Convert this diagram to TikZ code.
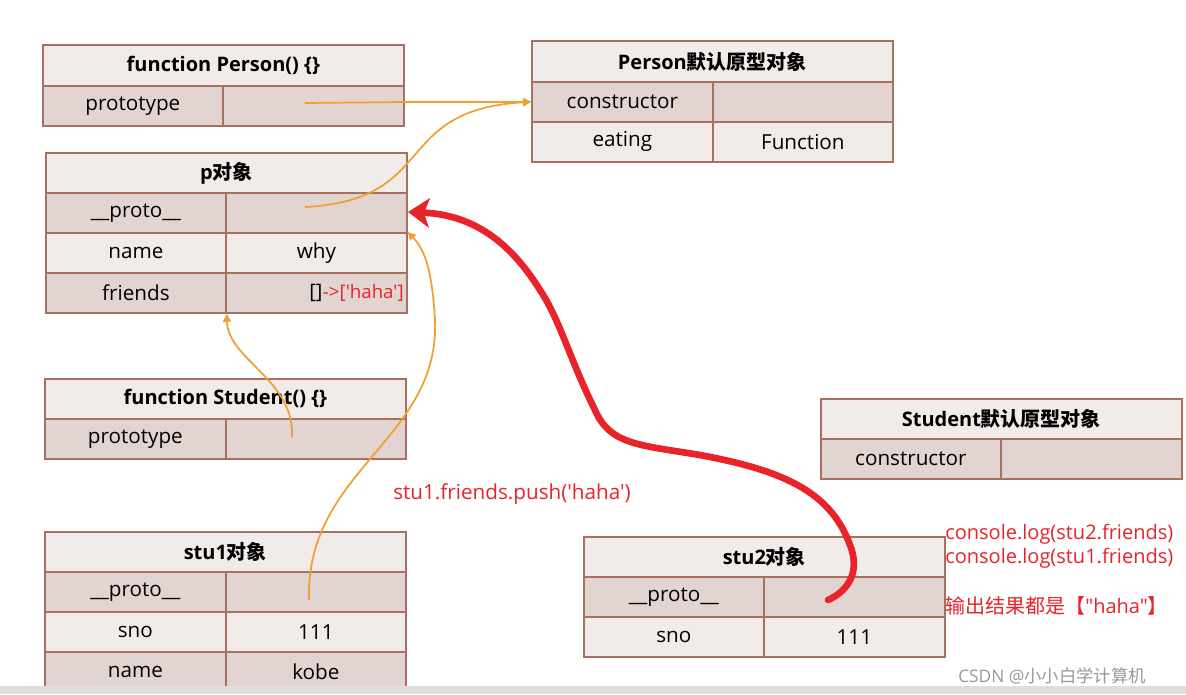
\documentclass[tikz,border=0pt]{standalone}
\usepackage{fontspec}
\setmainfont{Open Sans}[Ligatures=TeXOff]
\newfontfamily\cjk{Noto Sans CJK SC}
\usetikzlibrary{arrows.meta}
\definecolor{bd}{HTML}{A87060}
\definecolor{hd}{HTML}{F1EBE9}
\definecolor{rw}{HTML}{E2D4D0}
\definecolor{og}{HTML}{F0A030}
\definecolor{rd}{HTML}{E8232A}
\newcommand{\sq}{\char"27}
\newcommand{\dq}{\char"22}
\tikzset{
 cell/.style={draw=bd,line width=1.3pt,inner sep=0pt,anchor=north west,font=\fontsize{15.5}{18}\selectfont},
 hcell/.style={cell,fill=hd,font=\fontsize{15}{18}\selectfont\bfseries},
 dcell/.style={cell,fill=rw},
 lcell/.style={cell,fill=hd},
 oarr/.style={draw=og,line width=1.3pt,-{Triangle[length=6pt,width=6pt]}},
 rtxt/.style={text=rd,font=\fontsize{15.5}{18}\selectfont,anchor=west,inner sep=0pt},
}
\newcommand{\hdr}[6]{\node[hcell,minimum width=#4*0.75pt,minimum height=#5*0.75pt] (#1) at (#2,#3) {#6};}
\newcommand{\rowc}[8]{%
 \node[#8,minimum width=#4*0.75pt,minimum height=40*0.75pt] (#1a) at (#2,#3) {#6};
 \node[#8,minimum width=#5*0.75pt,minimum height=40*0.75pt] (#1b) at (#2+#4,#3) {#7};}
\begin{document}
\begin{tikzpicture}[x=0.75pt,y=-0.75pt]
\useasboundingbox (0,0) rectangle (1186,694);
\fill[white] (0,0) rectangle (1186,694);
% Person function
\hdr{pf}{42}{44}{361}{41}{function Person() \{\}}
\rowc{pfr}{42}{85}{180}{181}{prototype}{}{dcell}
% Person proto
\hdr{pp}{531}{40}{361}{41}{Person{\cjk\bfseries 默认原型对象}}
\rowc{ppc}{531}{81}{181}{180}{constructor}{}{dcell}
\rowc{ppe}{531}{121}{181}{180}{eating}{Function}{lcell}
% p object
\hdr{po}{45}{152}{361}{40}{p{\cjk\bfseries 对象}}
\rowc{pop}{45}{192}{180}{181}{\_\_proto\_\_}{}{dcell}
\rowc{pon}{45}{232}{180}{181}{name}{why}{lcell}
\rowc{pof}{45}{272}{180}{181}{friends}{}{dcell}
\node[anchor=west,inner sep=0pt,font=\fontsize{15}{18}\selectfont] (br) at (309,293) {[]};
\node[rtxt,font=\fontsize{14}{18}\selectfont] (brr) at (br.east) {->[\sq haha\sq]};
% Student function
\hdr{sf}{44}{378}{361}{40}{function Student() \{\}}
\rowc{sfr}{44}{418}{181}{180}{prototype}{}{dcell}
% Student proto
\hdr{sp}{820}{398}{361}{40}{Student{\cjk\bfseries 默认原型对象}}
\rowc{spc}{820}{438}{180}{181}{constructor}{}{dcell}
% stu1
\begin{scope}
\clip (0,0) rectangle (1186,686);
\hdr{s1}{44}{531}{361}{40}{stu1{\cjk\bfseries 对象}}
\rowc{s1p}{44}{571}{181}{180}{\_\_proto\_\_}{}{dcell}
\rowc{s1s}{44}{611}{181}{180}{sno}{111}{lcell}
\rowc{s1n}{44}{651}{181}{180}{name}{kobe}{dcell}
\end{scope}
% stu2
\hdr{s2}{583}{536}{361}{40}{stu2{\cjk\bfseries 对象}}
\rowc{s2p}{583}{576}{180}{181}{\_\_proto\_\_}{}{dcell}
\rowc{s2s}{583}{616}{180}{181}{sno}{111}{lcell}
% texts
\node[rtxt] (t1) at (393,494) {stu1.friends.push(\sq haha\sq)};
\node[rtxt,font=\fontsize{15}{18}\selectfont] (t2) at (945,534) {console.log(stu2.friends)};
\node[rtxt,font=\fontsize{15}{18}\selectfont] (t3) at (945,558) {console.log(stu1.friends)};
\node[rtxt,font=\fontsize{15}{18}\selectfont] (t4) at (945,606) {{\cjk 输出结果都是【}\dq haha\dq{\cjk 】}};
\fill[black!13] (0,686) rectangle (1186,694);
\node[anchor=west,inner sep=0pt,text=black!40,font=\fontsize{13}{14}\selectfont] (wm) at (958,676) {CSDN @{\cjk 小小白学计算机}};
% orange arrows
\coordinate (a1) at (305,103);
\draw[oarr] (a1) -- (403,102) -- (ppca.west);
\coordinate (a2) at (305,207);
\draw[oarr] (a2) .. controls (440,200) and (390,110) .. (ppca.west);
\coordinate (a3) at (292,437);
\draw[oarr] (a3) .. controls (295,380) and (228,360) .. (pofa.south east);
\coordinate (a4) at (309,600);
\draw[oarr] (a4) .. controls (305,470) and (440,440) .. (435,320) .. controls (432,270) and (425,250) .. (ponb.north east);
% red arrow
\coordinate (r0) at (828,600);
\draw[rd,line width=5pt,line cap=round,line join=round,-{Stealth[length=16pt,width=22pt,inset=4pt]}]
 (r0) .. controls (850,590) and (860,570) .. (850,545)
 .. controls (830,490) and (780,470) .. (700,455)
 .. controls (640,445) and (610,445) .. (595,410)
 .. controls (570,360) and (560,320) .. (540,290)
 .. controls (515,250) and (480,215) .. (408,212);
\end{tikzpicture}
\end{document}
